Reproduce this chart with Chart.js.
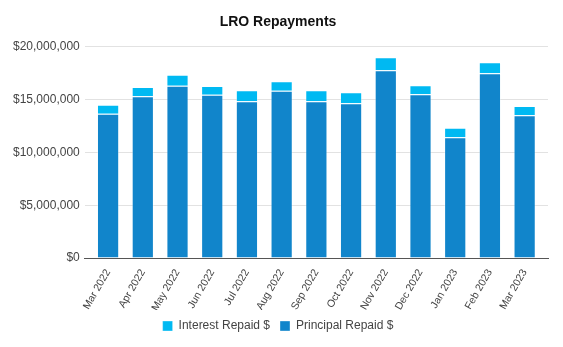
<!DOCTYPE html>
<html>
<head>
<meta charset="utf-8">
<script src="https://cdn.jsdelivr.net/npm/chart.js@4/dist/chart.umd.min.js"></script>
<style>
  html, body { margin: 0; padding: 0; background: #fff; }
  #wrap { width: 563px; height: 347px; }
</style>
</head>
<body>
<div id="wrap"><canvas id="chartRepay"></canvas></div>
<script>
/* ---- Data ---- */
const months = ['Mar 2022','Apr 2022','May 2022','Jun 2022','Jul 2022','Aug 2022','Sep 2022',
                'Oct 2022','Nov 2022','Dec 2022','Jan 2023','Feb 2023','Mar 2023'];
const principalRepaid = [13670000, 15310000, 16310000, 15470000, 14840000, 15840000, 14840000,
                         14650000, 17770000, 15500000, 11440000, 17490000, 13510000];
const interestRepaid  = [850000, 880000, 1040000, 810000, 1040000, 890000, 1040000,
                         1040000, 1230000, 850000, 900000, 1040000, 880000];
const yTicks = [0, 5000000, 10000000, 15000000, 20000000];

Chart.defaults.font.family = '"Liberation Sans", Arial, sans-serif';
Chart.defaults.color = '#444';

/* inset the bars a little from the ends of the axis, as in the original */
const insetBars = {
  id: 'insetBars',
  afterLayout(chart) {
    const x = chart.scales.x;
    x._startPixel += 6;
    x._endPixel   -= 6;
    x._length     -= 12;
  },
};

const ctx = document.getElementById('chartRepay').getContext('2d');
new Chart(ctx, {
  type: 'bar',
  data: {
    labels: months,
    datasets: [
      {
        label          : 'Principal Repaid $',
        data           : principalRepaid,
        backgroundColor: '#1185cb',
        borderColor    : 'rgba(255,255,255,0.35)',
        borderWidth    : 1,
      },
      {
        label          : 'Interest Repaid $',
        data           : interestRepaid,
        backgroundColor: '#00b9f2',
        borderColor    : 'rgba(255,255,255,0.35)',
        borderWidth    : 1,
      },
    ],
  },
  plugins: [insetBars],
  options: {
    responsive: true,
    maintainAspectRatio: false,
    animation: false,
    layout: { padding: { left: 8, right: 15, top: 8, bottom: 5 } },
    datasets: { bar: { categoryPercentage: 1, barPercentage: 0.64 } },
    plugins: {
      title: {
        display: true,
        text: 'LRO Repayments',
        color: '#111',
        font: { size: 14, weight: 'bold' },
        padding: { top: 6, bottom: 16 },
      },
      legend: {
        position: 'bottom',
        reverse: true,
        labels: { boxWidth: 10, boxHeight: 10, padding: 10, font: { size: 12 }, color: '#444' },
      },
      tooltip: { enabled: false },
    },
    scales: {
      x: {
        stacked: true,
        grid: { display: false },
        border: { color: '#555' },
        ticks: { minRotation: 60, maxRotation: 60, font: { size: 10.5 }, color: '#444', padding: 1 },
        afterFit: scale => { scale.height = 52; },
      },
      y: {
        stacked: true,
        min: 0,
        max: 20000000,
        afterBuildTicks: axis => { axis.ticks = yTicks.map(v => ({ value: v })); },
        grid: { color: '#e2e2e2', drawTicks: false },
        border: { display: false },
        ticks: {
          font: { size: 12 },
          color: '#444',
          padding: 5,
          callback: v => '$' + Number(v).toLocaleString('en-US'),
        },
      },
    },
  },
});
</script>
</body>
</html>
